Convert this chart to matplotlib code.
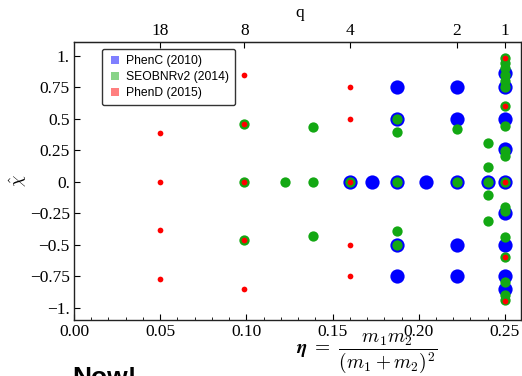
import matplotlib
matplotlib.use('Agg')
import matplotlib.pyplot as plt
from matplotlib.lines import Line2D
from matplotlib.ticker import FixedLocator, MultipleLocator, FuncFormatter

# ---- data ----
phenc_eta = [0.25]*9 + [0.24] + [0.2222]*5 + [0.2041] + [0.1875]*5 + [0.1728] + [0.16]
phenc_chi = [0.86, 0.75, 0.5, 0.26, 0, -0.25, -0.5, -0.75, -0.85,
             0,
             0.75, 0.5, 0, -0.5, -0.75,
             0,
             0.75, 0.5, 0, -0.5, -0.75,
             0,
             0]

seob_eta = ([0.25]*18 + [0.24]*5 + [0.2222]*2 + [0.1875]*5 + [0.16]
            + [0.1389]*3 + [0.1224] + [0.0988]*3)
seob_chi = [0.98, 0.94, 0.90, 0.85, 0.80, 0.75, 0.6, 0.44, 0.24, 0.2, 0,
            -0.2, -0.23, -0.44, -0.6, -0.8, -0.9, -0.94,
            0.31, 0.12, 0, -0.11, -0.31,
            0.42, 0,
            0.5, 0.39, 0, -0.39, -0.5,
            0,
            0.43, 0, -0.43,
            0,
            0.46, 0, -0.46]

phend_eta = [0.25]*5 + [0.16]*5 + [0.0988]*5 + [0.0499]*4
phend_chi = [0.98, 0.6, 0, -0.6, -0.95,
             0.75, 0.5, 0, -0.5, -0.75,
             0.85, 0.46, 0, -0.46, -0.85,
             0.385, 0, -0.385, -0.77]

series_labels = ["PhenC (2010)", "SEOBNRv2 (2014)", "PhenD (2015)"]
x_ticks = [0.00, 0.05, 0.10, 0.15, 0.20, 0.25]
y_ticks = [1.0, 0.75, 0.5, 0.25, 0.0, -0.25, -0.5, -0.75, -1.0]
y_ticklabels = ["1.", "0.75", "0.5", "0.25", "0.", "\u22120.25", "\u22120.5", "\u22120.75", "\u22121."]
q_ticks = [18, 8, 4, 2, 1]

plt.rcParams['mathtext.fontset'] = 'cm'
serif = 'Liberation Serif'

fig = plt.figure(figsize=(5.22, 3.76), dpi=100)
ax = fig.add_axes([74/522, 1-320/376, 447/522, 278/376])

blue = '#0000FF'
green = '#13A813'
red = '#FF0000'

ax.scatter(phenc_eta, phenc_chi, s=105, c=blue, linewidths=0, zorder=3)
ax.scatter(seob_eta, seob_chi, s=55, c=green, linewidths=0, zorder=4)
ax.scatter(phend_eta, phend_chi, s=17, c=red, linewidths=0, zorder=5)

ax.set_xlim(0, 0.2593)
ax.set_ylim(-1.098, 1.108)

ax.xaxis.set_major_locator(FixedLocator(x_ticks))
ax.xaxis.set_minor_locator(MultipleLocator(0.01))
ax.xaxis.set_major_formatter(FuncFormatter(lambda v, p: f"{v:.2f}"))
ax.set_yticks(y_ticks)
ax.set_yticklabels(y_ticklabels)

ax.tick_params(which='both', direction='in', top=False, right=False)
ax.tick_params(which='major', length=4, width=0.8, labelsize=12.5, pad=3)
ax.tick_params(which='minor', length=2.5, width=0.6)
for lab in ax.get_xticklabels() + ax.get_yticklabels():
    lab.set_fontfamily(serif)
for sp in ax.spines.values():
    sp.set_linewidth(1.0)
    sp.set_color('#222222')

# top axis in q
def eta_of_q(q):
    return q / (1.0 + q) ** 2
top = ax.secondary_xaxis('top')
top.set_xticks([eta_of_q(q) for q in q_ticks])
top.set_xticklabels([str(q) for q in q_ticks], fontfamily=serif)
top.tick_params(direction='in', length=4, width=0.8, labelsize=12.5, pad=2)
top.xaxis.set_minor_locator(FixedLocator([]))
ax.text(0.506, 1.105, 'q', transform=ax.transAxes, ha='center', va='center',
        fontsize=12.5, fontfamily=serif)

ax.text(-0.125, 0.5, r'$\hat{\chi}$', transform=ax.transAxes, rotation=90,
        ha='center', va='center', fontsize=13)
ax.text(0.655, -0.118, r'$\boldsymbol{\eta}\ =\ \dfrac{m_1 m_2}{(m_1+m_2)^2}$',
        transform=ax.transAxes, ha='center', va='center', fontsize=14)

handles = [Line2D([], [], marker='s', ls='none', markersize=5.5, color=c, alpha=0.5,
                  markeredgewidth=0) for c in (blue, green, red)]
leg = ax.legend(handles, series_labels, loc='upper left', bbox_to_anchor=(0.062, 0.975),
                prop={'family': 'Liberation Sans', 'size': 8.7}, fancybox=True,
                framealpha=1, edgecolor='#333333', handletextpad=0.3,
                labelspacing=0.35, borderpad=0.5, handlelength=1.2, borderaxespad=0)
leg.get_frame().set_linewidth(1.0)

fig.text(72/522, 1-366/376, 'Now!', ha='left', va='top', fontsize=19,
         fontweight='bold', fontfamily='Liberation Sans')

fig.savefig('out.png', dpi=100)
